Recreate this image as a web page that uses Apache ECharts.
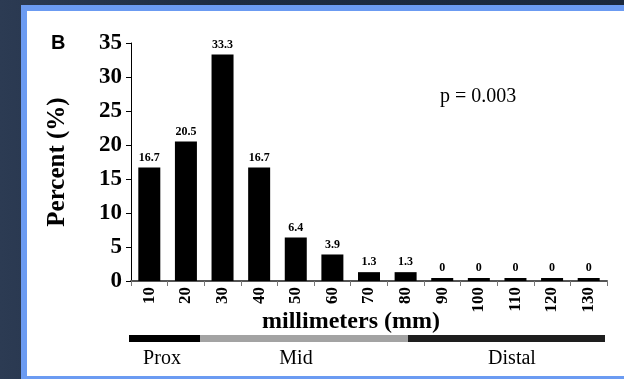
<!DOCTYPE html>
<html><head><meta charset="utf-8">
<script src="https://cdn.jsdelivr.net/npm/echarts@6/dist/echarts.min.js"></script>
<style>
html,body{margin:0;padding:0;width:624px;height:379px;overflow:hidden;background:linear-gradient(90deg,#2c3b53 0%,#1d2c42 35%,#1a283d 100%);}
#frame{position:absolute;left:21px;top:5px;width:620px;height:365px;background:#fff;border:6px solid #6b9bf2;border-right:none;border-bottom-width:3px;}
#chart{position:absolute;left:0;top:0;width:624px;height:379px;}
</style></head><body>
<div id="frame"></div><div id="chart"></div>
<script>
const categories = ['10','20','30','40','50','60','70','80','90','100','110','120','130'];
const percents = [16.7, 20.5, 33.3, 16.7, 6.4, 3.9, 1.3, 1.3, 0, 0, 0, 0, 0];
const yMin = 0, yMax = 35, yStep = 5;
const regions = ['Prox', 'Mid', 'Distal'];
const panelLabel = 'B';
const pText = 'p = 0.003';
const xName = 'millimeters (mm)';
const yName = 'Percent (%)';

const serif = '"Liberation Serif","Times New Roman",serif';
const chart = echarts.init(document.getElementById('chart'), null, {renderer: 'canvas'});
const regionFills = ['#000000', '#a3a3a3', '#1e1e1e'];
const regionSpans = [[129, 200], [200, 408], [408, 605]];
const regionTextX = [162, 296, 512];

const graphics = [
  {type: 'text', left: 51, top: 33, style: {text: panelLabel, font: 'bold 20px "Liberation Sans", Arial, sans-serif', fill: '#000'}},
  {type: 'text', left: 440, top: 87, style: {text: pText, font: '20px ' + serif, fill: '#000'}},
  {type: 'text', x: 351, y: 322, style: {text: xName, font: 'bold 24px ' + serif, fill: '#000', align: 'center', verticalAlign: 'middle'}}
];
regions.forEach((r, i) => {
  graphics.push({type: 'rect', shape: {x: regionSpans[i][0], y: 335, width: regionSpans[i][1] - regionSpans[i][0], height: 7}, style: {fill: regionFills[i]}});
  graphics.push({type: 'text', x: regionTextX[i], y: 359, style: {text: r, font: '20px ' + serif, fill: '#000', align: 'center', verticalAlign: 'middle'}});
});

chart.setOption({
  animation: false,
  backgroundColor: 'transparent',
  grid: {left: 131, right: 17, top: 43, bottom: 98, containLabel: false},
  xAxis: {
    type: 'category',
    data: categories,
    axisLine: {lineStyle: {color: '#555', width: 2}},
    axisTick: {show: true, length: 5, lineStyle: {color: '#777'}},
    axisLabel: {rotate: 90, margin: 6, color: '#000', fontFamily: serif, fontWeight: 'bold', fontSize: 17}
  },
  yAxis: {
    type: 'value',
    min: yMin, max: yMax, interval: yStep,
    name: yName,
    nameLocation: 'middle',
    nameGap: 61,
    nameTextStyle: {color: '#000', fontFamily: serif, fontWeight: 'bold', fontSize: 25},
    splitLine: {show: false},
    axisLine: {show: true, lineStyle: {color: '#000', width: 1}},
    axisTick: {show: true, length: 5, lineStyle: {color: '#000'}},
    axisLabel: {margin: 9, color: '#000', fontFamily: serif, fontWeight: 'bold', fontSize: 23}
  },
  series: [{
    type: 'bar',
    data: percents,
    barWidth: 22,
    barMinHeight: 3,
    itemStyle: {color: '#000'},
    label: {show: true, position: 'top', distance: 4, color: '#000', fontFamily: serif, fontWeight: 'bold', fontSize: 12}
  }],
  graphic: graphics
});
</script>
</body></html>
